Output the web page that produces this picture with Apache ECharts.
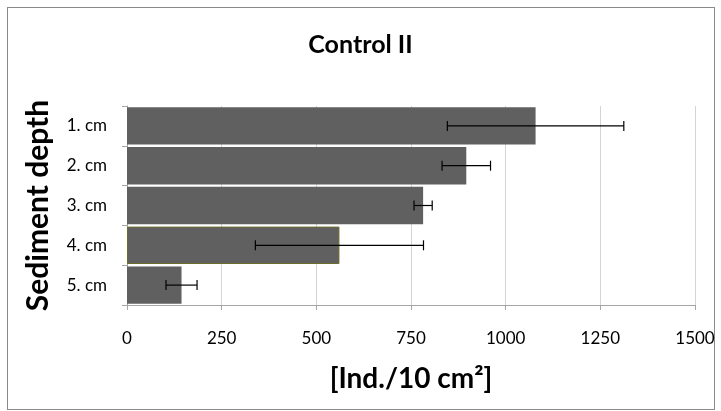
<!DOCTYPE html>
<html>
<head>
<meta charset="utf-8">
<script src="https://cdn.jsdelivr.net/npm/echarts@6/dist/echarts.min.js"></script>
<style>
  html, body { margin: 0; padding: 0; background: #fff; }
  #frame { position: absolute; left: 7px; top: 7px; width: 706px; height: 401px; border: 1px solid #8a8a8a; }
  #main { position: absolute; left: 0; top: 0; width: 721px; height: 411px; }
</style>
</head>
<body>
<div id="frame"></div>
<div id="main"></div>
<script>
// sediment layers, mean abundance and standard deviation
const depths = ['1. cm', '2. cm', '3. cm', '4. cm', '5. cm'];
const means = [1079, 896, 782, 561, 144];
const errs = [233, 64, 24, 222, 41];
const xTicks = [0, 250, 500, 750, 1000, 1250, 1500];

const font = 'Lato, "Open Sans", sans-serif';

const chart = echarts.init(document.getElementById('main'), null, { renderer: 'canvas' });

// error bar end points
const errData = depths.map((d, i) => [means[i] - errs[i], means[i] + errs[i], i]);

const option = {
  animation: false,
  title: {
    text: 'Control II',
    left: 'center',
    top: 27,
    textStyle: { fontFamily: font, fontSize: 25, fontWeight: 'bold', color: '#000' }
  },
  grid: { left: 127, right: 26, top: 106, bottom: 106 },
  xAxis: {
    type: 'value',
    min: xTicks[0],
    max: xTicks[xTicks.length - 1],
    interval: 250,
    name: '[Ind./10 cm²]',
    nameLocation: 'middle',
    nameGap: 60,
    nameTextStyle: { fontFamily: font, fontSize: 28, fontWeight: 'bold', color: '#000' },
    axisLine: { show: true, lineStyle: { color: '#a6a6a6', width: 1 } },
    axisTick: { show: true, length: 5, lineStyle: { color: '#a6a6a6' } },
    axisLabel: { margin: 25, fontFamily: font, fontSize: 17, color: '#000', formatter: v => String(v) },
    splitLine: { show: true, lineStyle: { color: '#d4d4d4', width: 1 } }
  },
  yAxis: {
    type: 'category',
    data: depths,
    inverse: true,
    name: 'Sediment depth',
    nameLocation: 'middle',
    nameGap: 74,
    nameTextStyle: { fontFamily: font, fontSize: 30, fontWeight: 'bold', color: '#000' },
    axisLine: { show: true, lineStyle: { color: '#a6a6a6', width: 1 } },
    axisTick: { show: true, length: 5, lineStyle: { color: '#a6a6a6' } },
    axisLabel: { margin: 20, fontFamily: font, fontSize: 17, color: '#000' }
  },
  series: [
    {
      type: 'bar',
      data: means.map((v, i) => i === 3
        ? { value: v, itemStyle: { borderColor: '#6b6b2a', borderWidth: 1 } }
        : v),
      barCategoryGap: '6%',
      itemStyle: { color: '#606060' }
    },
    {
      type: 'custom',
      data: errData,
      encode: { x: [0, 1], y: 2 },
      z: 5,
      renderItem: function (params, api) {
        const lo = api.coord([api.value(0), api.value(2)]);
        const hi = api.coord([api.value(1), api.value(2)]);
        const h = 5;
        const style = { stroke: '#000', lineWidth: 1.2 };
        return {
          type: 'group',
          children: [
            { type: 'line', shape: { x1: lo[0], y1: lo[1], x2: hi[0], y2: hi[1] }, style: style },
            { type: 'line', shape: { x1: lo[0], y1: lo[1] - h, x2: lo[0], y2: lo[1] + h }, style: style },
            { type: 'line', shape: { x1: hi[0], y1: hi[1] - h, x2: hi[0], y2: hi[1] + h }, style: style }
          ]
        };
      }
    }
  ]
};

chart.setOption(option);
</script>
</body>
</html>
